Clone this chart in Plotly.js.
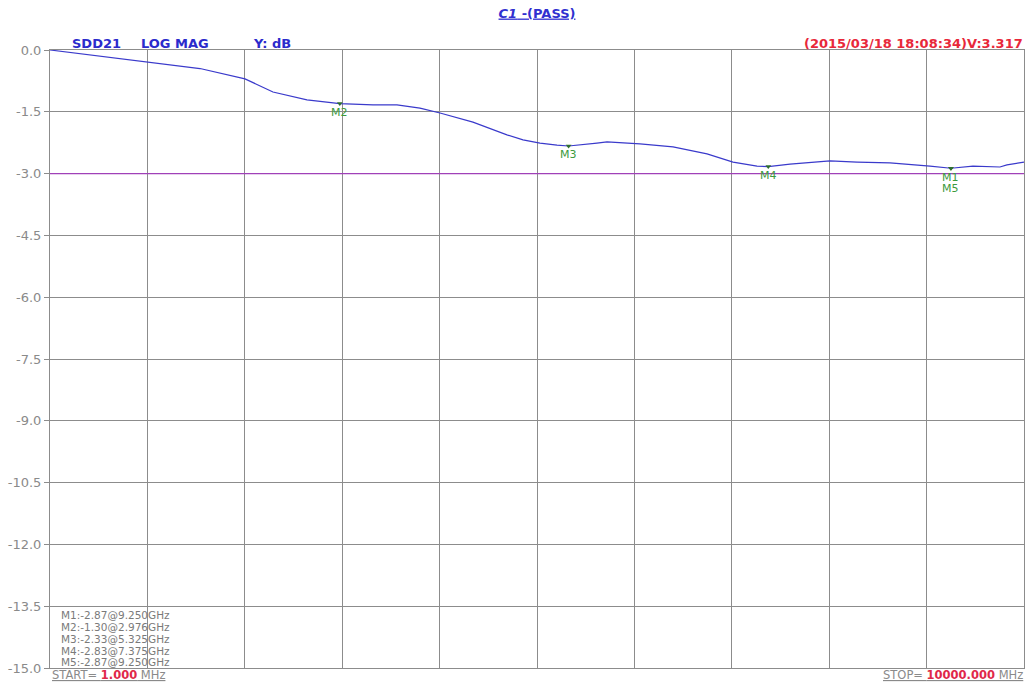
<!DOCTYPE html>
<html>
<head>
<meta charset="utf-8">
<script src="https://cdn.plot.ly/plotly-3.0.1.min.js"></script>
<style>
  html, body { margin: 0; padding: 0; background: #ffffff; }
  #chart { width: 1026px; height: 682px; }
</style>
</head>
<body>
<div id="chart"></div>
<script>
// ---- data ----
const freqMHz = [1, 1007, 1541, 2003, 2290, 2639, 2976, 3317, 3563, 3799, 4005, 4343, 4692, 4857, 5031, 5206, 5325, 5616, 5719, 6058, 6397, 6746, 7013, 7259, 7375, 7598, 7772, 8009, 8286, 8624, 9035, 9250, 9476, 9753, 9825, 10000];
const sdd21Db = [0.0, -0.29, -0.45, -0.70, -1.02, -1.21, -1.30, -1.33, -1.33, -1.41, -1.53, -1.75, -2.06, -2.18, -2.26, -2.31, -2.33, -2.26, -2.23, -2.28, -2.35, -2.52, -2.72, -2.82, -2.83, -2.77, -2.74, -2.69, -2.72, -2.74, -2.82, -2.87, -2.82, -2.84, -2.79, -2.72];

const markerNames = ['M1', 'M2', 'M3', 'M4', 'M5'];
const markerFreqGHz = [9.250, 2.976, 5.325, 7.375, 9.250];
const markerDb = [-2.87, -1.30, -2.33, -2.83, -2.87];
const markerLabelShift = [-9, -9, -8, -9, -20];

const limitDb = -3.0;
const startMHz = 1;
const stopMHz = 10000;
const yTickVals = [0, -1.5, -3.0, -4.5, -6.0, -7.5, -9.0, -10.5, -12.0, -13.5, -15.0];

const headerParts = ['SDD21', 'LOG MAG', 'Y: dB'];
const titleText = 'C1 -(PASS)';
const stampText = '(2015/03/18 18:08:34)V:3.317';

// ---- layout helpers (pixel -> paper) ----
const L = 50, R = 2, T = 50, B = 14, W = 1026, H = 682;
const pw = W - L - R, ph = H - T - B;
const px2x = p => (p - L) / pw;
const py2y = p => (H - B - p) / ph;

const FONT = 'DejaVu Sans, Arial, sans-serif';

const traces = [
  {
    x: freqMHz, y: sdd21Db, type: 'scatter', mode: 'lines',
    line: { color: '#3a3acb', width: 1.2 }, hoverinfo: 'skip'
  },
  {
    x: [startMHz, stopMHz], y: [limitDb, limitDb], type: 'scatter', mode: 'lines',
    line: { color: '#a040b8', width: 1.2 }, hoverinfo: 'skip'
  },
  {
    x: markerFreqGHz.map(f => f * 1000), y: markerDb, type: 'scatter', mode: 'markers',
    marker: { symbol: 'triangle-down', size: 5, color: '#2f6f2f' }, hoverinfo: 'skip'
  }
];

const annotations = [];
// marker labels
markerNames.forEach((n, i) => {
  annotations.push({
    x: markerFreqGHz[i] * 1000, y: markerDb[i], xref: 'x', yref: 'y',
    text: n, showarrow: false, xanchor: 'center', yanchor: 'middle',
    yshift: markerLabelShift[i],
    font: { family: FONT, size: 11, color: '#3c9a3c' }
  });
});
// marker table
const tableY = [615, 627, 639, 650.5, 662];
markerNames.forEach((n, i) => {
  annotations.push({
    x: px2x(59), y: py2y(tableY[i]), xref: 'paper', yref: 'paper',
    text: n + ':' + markerDb[i].toFixed(2) + '@' + markerFreqGHz[i].toFixed(3) + 'GHz',
    showarrow: false, xanchor: 'left', yanchor: 'middle',
    font: { family: FONT, size: 10.5, color: '#7a7a7a' }
  });
});
// header
const headerX = [70, 139, 251];
headerParts.forEach((t, i) => {
  annotations.push({
    x: px2x(headerX[i]), y: py2y(43), xref: 'paper', yref: 'paper',
    text: '<b>' + t + '</b>', showarrow: false, xanchor: 'left', yanchor: 'middle',
    font: { family: FONT, size: 13, color: '#2b2bcc' }
  });
});
// timestamp
annotations.push({
  x: px2x(1025), y: py2y(43), xref: 'paper', yref: 'paper',
  text: '<b>' + stampText + '</b>', showarrow: false, xanchor: 'right', yanchor: 'middle',
  font: { family: FONT, size: 13, color: '#e8283a' }
});
// start / stop
annotations.push({
  x: px2x(50), y: py2y(675), xref: 'paper', yref: 'paper',
  text: '<u>START= <span style="color:#e0284a"><b>' + startMHz.toFixed(3) + '</b></span> MHz</u>',
  showarrow: false, xanchor: 'left', yanchor: 'middle',
  font: { family: FONT, size: 11.5, color: '#8a8a8a' }
});
annotations.push({
  x: px2x(1025), y: py2y(675), xref: 'paper', yref: 'paper',
  text: '<u>STOP= <span style="color:#e0284a"><b>' + stopMHz.toFixed(3) + '</b></span> MHz</u>',
  showarrow: false, xanchor: 'right', yanchor: 'middle',
  font: { family: FONT, size: 11.5, color: '#8a8a8a' }
});

const layout = {
  width: W, height: H,
  margin: { l: L, r: R, t: T, b: B, pad: 0 },
  paper_bgcolor: '#ffffff', plot_bgcolor: '#ffffff',
  showlegend: false,
  title: {
    text: '<u><b><i>C1</i> -(PASS)</b></u>',
    x: px2x(537), xref: 'paper', xanchor: 'center',
    y: 1 - 13 / H, yanchor: 'middle',
    font: { family: FONT, size: 13, color: '#3030d0' }
  },
  xaxis: {
    range: [startMHz, stopMHz], tick0: startMHz, dtick: (stopMHz - startMHz) / 10,
    showticklabels: false, ticks: '',
    showgrid: true, gridcolor: '#8c8c8c', gridwidth: 1,
    showline: true, mirror: true, linecolor: '#8c8c8c', linewidth: 1,
    zeroline: false, fixedrange: true
  },
  yaxis: {
    range: [-15, 0], tickmode: 'array', tickvals: yTickVals,
    ticktext: yTickVals.map(v => v.toFixed(1)),
    ticks: 'outside', ticklen: 5, tickcolor: '#8c8c8c',
    tickfont: { family: FONT, size: 13, color: '#8a8a8a' },
    showgrid: true, gridcolor: '#8c8c8c', gridwidth: 1,
    showline: true, mirror: true, linecolor: '#8c8c8c', linewidth: 1,
    zeroline: false, fixedrange: true
  },
  annotations: annotations
};

Plotly.newPlot('chart', traces, layout, { displayModeBar: false, staticPlot: true });
</script>
</body>
</html>
